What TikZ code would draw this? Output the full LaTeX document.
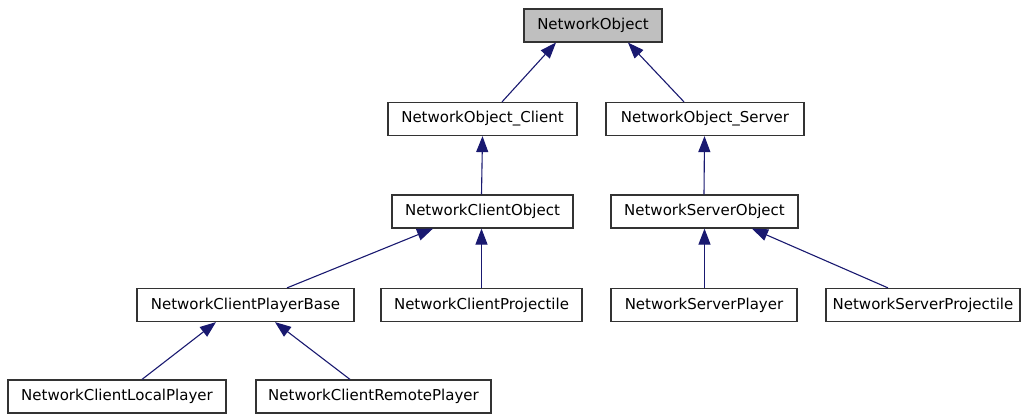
\documentclass[tikz,border=0pt]{standalone}
\usepackage{fontspec}
\setmainfont{DejaVu Sans}
\usetikzlibrary{arrows.meta}
\definecolor{edgeblue}{HTML}{191970}
\definecolor{rootgray}{HTML}{BFBFBF}

\begin{document}
\begin{tikzpicture}[x=1pt, y=-1pt,
  cls/.style={draw=black!80, line width=1.2pt, fill=white, minimum height=33pt, inner sep=0pt, font=\fontsize{15}{18}\selectfont},
  inh/.style={draw=edgeblue, line width=1.1pt, -{Triangle[length=16pt,width=12pt]}}]
\useasboundingbox (0,0) rectangle (1022,414);

\node[cls, fill=rootgray, minimum width=138pt] (obj) at (593,25.5) {NetworkObject};

\node[cls, minimum width=189pt] (objc) at (482.5,119) {NetworkObject\_Client};
\node[cls, minimum width=198pt] (objs) at (705,119) {NetworkObject\_Server};

\node[cls, minimum width=181pt] (cobj) at (482.5,211.5) {NetworkClientObject};
\node[cls, minimum width=187pt] (sobj) at (704.5,211.5) {NetworkServerObject};

\node[cls, minimum width=217pt] (cpb) at (245.5,305) {NetworkClientPlayerBase};
\node[cls, minimum width=201pt] (cproj) at (481.5,305) {NetworkClientProjectile};
\node[cls, minimum width=186pt] (splayer) at (704,305) {NetworkServerPlayer};
\node[cls, minimum width=194pt] (sproj) at (923,305) {NetworkServerProjectile};

\node[cls, minimum width=218pt] (clocal) at (117,396.5) {NetworkClientLocalPlayer};
\node[cls, minimum width=235pt] (cremote) at (373.5,396.5) {NetworkClientRemotePlayer};

\draw[inh] ([xshift=19.5pt]objc.north) -- ([xshift=-37pt]obj.south);
\draw[inh] ([xshift=-21pt]objs.north) -- ([xshift=35pt]obj.south);
\draw[inh] ([xshift=-1pt]cobj.north) -- (objc.south);
\draw[inh] ([xshift=-0.5pt]sobj.north) -- ([xshift=-0.5pt]objs.south);
\draw[inh] ([xshift=41.5pt]cpb.north) -- ([xshift=-49.5pt]cobj.south);
\draw[inh] (cproj.north) -- (cproj.north |- cobj.south);
\draw[inh] ([xshift=0.5pt]splayer.north) -- ([xshift=0.5pt]splayer.north |- sobj.south);
\draw[inh] ([xshift=-35pt]sproj.north) -- ([xshift=47.5pt]sobj.south);
\draw[inh] ([xshift=25pt]clocal.north) -- ([xshift=-29.5pt]cpb.south);
\draw[inh] ([xshift=-23.5pt]cremote.north) -- ([xshift=29.5pt]cpb.south);
\end{tikzpicture}
\end{document}
